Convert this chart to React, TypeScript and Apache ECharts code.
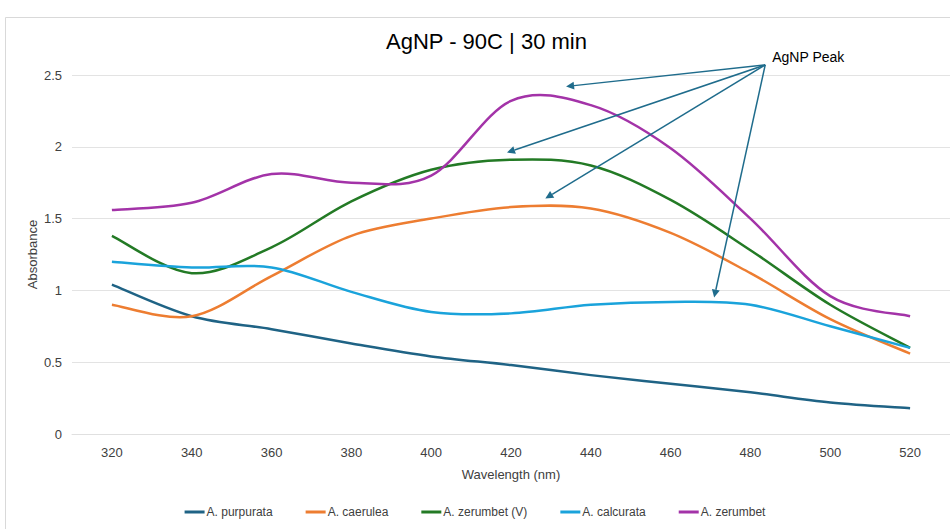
import React, { useEffect, useRef } from "react";
import * as echarts from "echarts";

const wavelengths = ["320", "340", "360", "380", "400", "420", "440", "460", "480", "500", "520"];
const purpurata = [1.04, 0.82, 0.73, 0.63, 0.54, 0.48, 0.41, 0.35, 0.29, 0.22, 0.18];
const caerulea = [0.9, 0.82, 1.1, 1.38, 1.5, 1.58, 1.57, 1.4, 1.12, 0.8, 0.56];
const zerumbetV = [1.38, 1.12, 1.3, 1.62, 1.84, 1.91, 1.87, 1.63, 1.28, 0.9, 0.6];
const calcurata = [1.2, 1.16, 1.16, 0.99, 0.85, 0.84, 0.9, 0.92, 0.9, 0.75, 0.6];
const zerumbet = [1.56, 1.61, 1.81, 1.75, 1.8, 2.32, 2.29, 1.99, 1.5, 0.96, 0.82];

const seriesNames = ["A. purpurata", "A. caerulea", "A. zerumbet (V)", "A. calcurata", "A. zerumbet"];
const seriesColors = ["#1F6385", "#ED7D31", "#237A25", "#1AA3DB", "#A333A8"];

const yAxisTitle = "Absorbance";
const xAxisTitle = "Wavelength (nm)";

// annotation: origin and arrow tips in data units (wavelength nm, absorbance)
const annotationLabel = "AgNP Peak";
const originWavelength = 483.7;
const originAbsorbance = 2.57;
const arrowWavelengths = [433.8, 419, 428.6, 470.9];
const arrowAbsorbances = [2.42, 1.96, 1.64, 0.95];

const FONT = "'Liberation Sans', Arial, sans-serif";

function makeSmoothSeries(name: string, values: number[], color: string) {
  return {
    name,
    type: "custom",
    data: values.map((v, j) => [j, v]),
    encode: { x: 0, y: 1 },
    color,
    itemStyle: { color },
    clip: false,
    renderItem: (params: any, api: any) => {
      if (params.dataIndex !== 0) return null;
      const pts = values.map((v, j) => api.coord([j, v]) as number[]);
      const n = pts.length;
      const P = (k: number) => pts[Math.max(0, Math.min(n - 1, k))];
      let d = `M${pts[0][0]},${pts[0][1]}`;
      for (let i = 0; i < n - 1; i++) {
        const p0 = P(i - 1), p1 = P(i), p2 = P(i + 1), p3 = P(i + 2);
        const c1x = p1[0] + (p2[0] - p0[0]) / 6;
        const c1y = p1[1] + (p2[1] - p0[1]) / 6;
        const c2x = p2[0] - (p3[0] - p1[0]) / 6;
        const c2y = p2[1] - (p3[1] - p1[1]) / 6;
        d += ` C${c1x},${c1y} ${c2x},${c2y} ${p2[0]},${p2[1]}`;
      }
      return {
        type: "path",
        shape: { pathData: d },
        style: { fill: "none", stroke: color, lineWidth: 2.5, lineJoin: "round" },
      };
    },
  };
}

export default function App() {
  const ref = useRef<HTMLDivElement>(null);
  useEffect(() => {
    document.body.style.margin = "0";
    if (!ref.current) return;
    const chart = echarts.init(ref.current, undefined, { renderer: "svg" });
    const data = [purpurata, caerulea, zerumbetV, calcurata, zerumbet];
    chart.setOption({
      animation: false,
      backgroundColor: "#ffffff",
      title: {
        text: "AgNP - 90C | 30 min",
        left: 386,
        top: 30,
        padding: 0,
        textStyle: { fontFamily: FONT, fontSize: 22, fontWeight: "normal", color: "#000000" },
      },
      grid: { left: 72, right: 0, top: 75, bottom: 95 },
      legend: {
        bottom: 6,
        left: "center",
        icon: "rect",
        itemWidth: 20,
        itemHeight: 3,
        itemGap: 33,
        textStyle: { fontFamily: FONT, fontSize: 12, color: "#404040", padding: [0, 0, 0, -3] },
        data: seriesNames,
      },
      xAxis: {
        type: "category",
        data: wavelengths,
        boundaryGap: true,
        name: xAxisTitle,
        nameLocation: "middle",
        nameGap: 34,
        nameTextStyle: { fontFamily: FONT, fontSize: 13, color: "#404040" },
        axisLine: { show: true, lineStyle: { color: "#e0e0e0" } },
        axisTick: { show: false },
        axisLabel: { fontFamily: FONT, fontSize: 13, color: "#404040", margin: 12 },
      },
      yAxis: {
        type: "value",
        min: 0,
        max: 2.5,
        interval: 0.5,
        axisLine: { show: false },
        axisTick: { show: false },
        axisLabel: { fontFamily: FONT, fontSize: 13, color: "#404040", margin: 10 },
        splitLine: { lineStyle: { color: "#e3e3e3" } },
      },
      series: data.map((d, i) => makeSmoothSeries(seriesNames[i], d, seriesColors[i])),
    });

    // Build annotation arrows from axis-converted positions
    const x0 = chart.convertToPixel({ xAxisIndex: 0 }, wavelengths[0]) as number;
    const x1 = chart.convertToPixel({ xAxisIndex: 0 }, wavelengths[1]) as number;
    const step = Number(wavelengths[1]) - Number(wavelengths[0]);
    const toX = (wl: number) => x0 + ((wl - Number(wavelengths[0])) / step) * (x1 - x0);
    const toY = (v: number) => chart.convertToPixel({ yAxisIndex: 0 }, v) as number;
    const ox = toX(originWavelength);
    const oy = toY(originAbsorbance);
    const arrowColor = "#1F6C8C";
    const elements: any[] = [
      {
        type: "rect",
        shape: { x: 5.5, y: 17.5, width: 1000, height: 600 },
        style: { fill: "none", stroke: "#d9d9d9", lineWidth: 1 },
        silent: true,
        z: -10,
      },
      {
        type: "text",
        x: 32,
        y: (toY(0) + toY(2.5)) / 2,
        rotation: Math.PI / 2,
        style: {
          text: yAxisTitle,
          fontFamily: FONT,
          fontSize: 13,
          fill: "#404040",
          align: "center",
          verticalAlign: "middle",
        },
      },
      {
        type: "text",
        x: ox + 7,
        y: oy - 15,
        style: { text: annotationLabel, fontFamily: FONT, fontSize: 14, fill: "#000000" },
      },
    ];
    arrowWavelengths.forEach((wl, i) => {
      const tx = toX(wl);
      const ty = toY(arrowAbsorbances[i]);
      const dx = tx - ox;
      const dy = ty - oy;
      const len = Math.sqrt(dx * dx + dy * dy);
      const ux = dx / len;
      const uy = dy / len;
      const headLen = 8;
      const headW = 4;
      const bx = tx - ux * headLen;
      const by = ty - uy * headLen;
      elements.push({
        type: "line",
        shape: { x1: ox, y1: oy, x2: bx, y2: by },
        style: { stroke: arrowColor, lineWidth: 1.5 },
        z: 20,
      });
      elements.push({
        type: "polygon",
        shape: {
          points: [
            [tx, ty],
            [bx - uy * headW, by + ux * headW],
            [bx + uy * headW, by - ux * headW],
          ],
        },
        style: { fill: arrowColor },
        z: 20,
      });
    });
    chart.setOption({ graphic: elements });
    return () => chart.dispose();
  }, []);
  return <div ref={ref} style={{ width: 950, height: 529 }} />;
}
